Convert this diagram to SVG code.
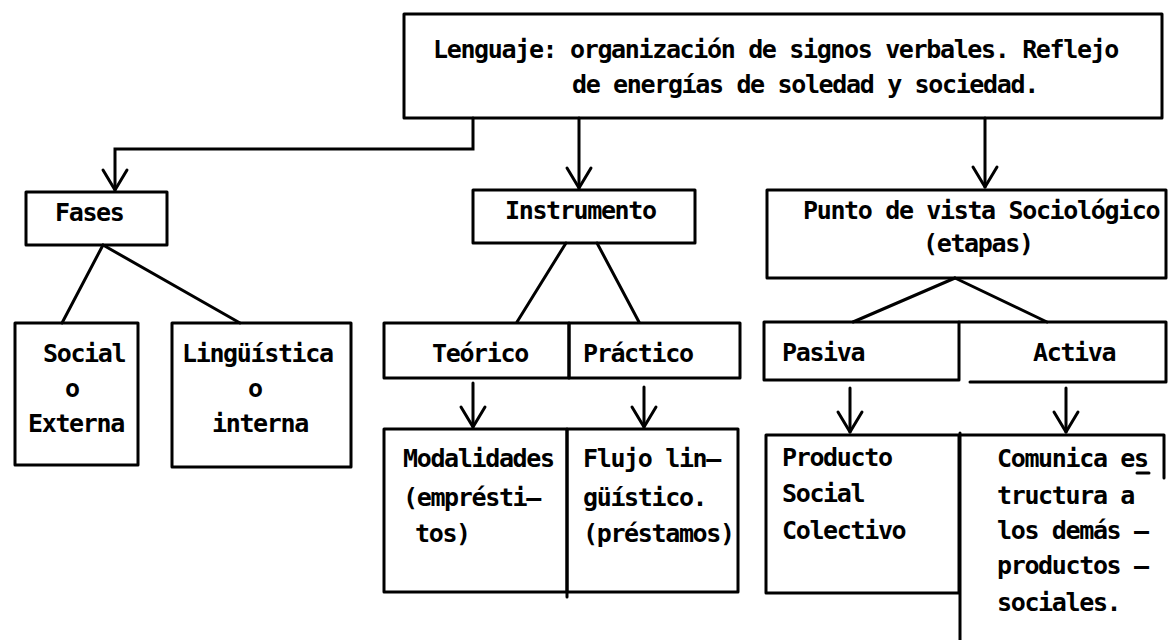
<svg xmlns="http://www.w3.org/2000/svg" width="1169" height="640" viewBox="0 0 1169 640">
<style>
  .b{fill:none;stroke:#000;stroke-width:3;stroke-linejoin:round;stroke-linecap:round}
  .c{fill:none;stroke:#000;stroke-width:3;stroke-linecap:round}
  text{font-family:"DejaVu Sans Mono","Liberation Mono",monospace;font-weight:bold;font-size:25px;letter-spacing:-1.35px;fill:#000}
</style>
<defs>
  <marker id="v" markerUnits="userSpaceOnUse" markerWidth="30" markerHeight="30" refX="0" refY="0" viewBox="-22 -15 26 30" orient="auto" overflow="visible">
    <path d="M-20,-12 L0,0 L-20,12" fill="none" stroke="#000" stroke-width="3" stroke-linecap="round" stroke-linejoin="round"/>
  </marker>
</defs>
<rect width="1169" height="640" fill="#fff"/>

<g id="connectors">
  <polyline class="c" points="473,118 473,149 115,149 115,190" marker-end="url(#v)"/>
  <line class="c" x1="579" y1="118" x2="579" y2="188" marker-end="url(#v)"/>
  <line class="c" x1="985" y1="118" x2="985" y2="187" marker-end="url(#v)"/>
  <line class="c" x1="103" y1="245" x2="62" y2="323"/>
  <line class="c" x1="103" y1="245" x2="240" y2="323"/>
  <line class="c" x1="566" y1="243" x2="517" y2="322"/>
  <line class="c" x1="597" y1="243" x2="639" y2="322"/>
  <line class="c" x1="473" y1="383" x2="473" y2="427" marker-end="url(#v)"/>
  <line class="c" x1="644" y1="387" x2="644" y2="427" marker-end="url(#v)"/>
  <line class="c" x1="955" y1="278" x2="853" y2="322"/>
  <line class="c" x1="955" y1="278" x2="1047" y2="322"/>
  <line class="c" x1="850" y1="388" x2="850" y2="432" marker-end="url(#v)"/>
  <line class="c" x1="1066" y1="388" x2="1066" y2="432" marker-end="url(#v)"/>
</g>

<g id="lenguaje">
  <rect class="b" x="404" y="14" width="758" height="104"/>
  <text x="433" y="58">Lenguaje: organización de signos verbales. Reflejo</text>
  <text x="572" y="93">de energías de soledad y sociedad.</text>
</g>

<g id="fases">
  <rect class="b" x="26" y="192" width="141" height="53"/>
  <text x="55" y="221">Fases</text>
</g>

<g id="social">
  <rect class="b" x="15" y="323" width="123" height="142"/>
  <text x="43" y="362">Social</text>
  <text x="65" y="397">o</text>
  <text x="28" y="432">Externa</text>
</g>

<g id="linguistica">
  <rect class="b" x="172" y="323" width="179" height="144"/>
  <text x="182" y="362">Lingüística</text>
  <text x="248" y="397">o</text>
  <text x="212" y="432">interna</text>
</g>

<g id="instrumento">
  <rect class="b" x="473" y="190" width="222" height="53"/>
  <text x="505" y="219">Instrumento</text>
</g>

<g id="teorico">
  <rect class="b" x="384" y="323" width="185" height="55"/>
  <text x="432" y="362">Teórico</text>
</g>

<g id="practico">
  <rect class="b" x="569" y="323" width="171" height="55"/>
  <text x="583" y="362">Práctico</text>
</g>

<g id="modalidades">
  <rect class="b" x="384" y="429" width="183" height="163"/>
  <text x="403" y="467">Modalidades</text>
  <text x="403" y="506">(emprésti—</text>
  <text x="415" y="542">tos)</text>
</g>

<g id="flujo">
  <path class="b" d="M567,429 L738,429 L738,592 L567,592 M567,429 L567,597"/>
  <text x="583" y="467">Flujo lin—</text>
  <text x="583" y="506">güístico.</text>
  <text x="583" y="542">(préstamos)</text>
</g>

<g id="punto">
  <rect class="b" x="767" y="190" width="399" height="88"/>
  <text x="803" y="219">Punto de vista Sociológico</text>
  <text x="923" y="252">(etapas)</text>
</g>

<g id="pasiva">
  <rect class="b" x="764" y="322" width="195" height="58"/>
  <text x="782" y="361">Pasiva</text>
</g>

<g id="activa">
  <path class="b" d="M959,322 L1166,322 L1166,382 L970,382"/>
  <text x="1033" y="361">Activa</text>
</g>

<g id="producto">
  <rect class="b" x="766" y="435" width="193" height="158"/>
  <text x="782" y="466">Producto</text>
  <text x="782" y="502">Social</text>
  <text x="782" y="539">Colectivo</text>
</g>

<g id="comunica">
  <path class="b" d="M960,433 L960,640 M960,435 L1164,435 L1164,478"/>
  <text x="997" y="467">Comunica es</text>
  <line class="c" x1="1137" y1="473" x2="1149" y2="473"/>
  <text x="997" y="504">tructura a</text>
  <text x="997" y="539">los demás —</text>
  <text x="997" y="574">productos —</text>
  <text x="997" y="611">sociales.</text>
</g>
</svg>
